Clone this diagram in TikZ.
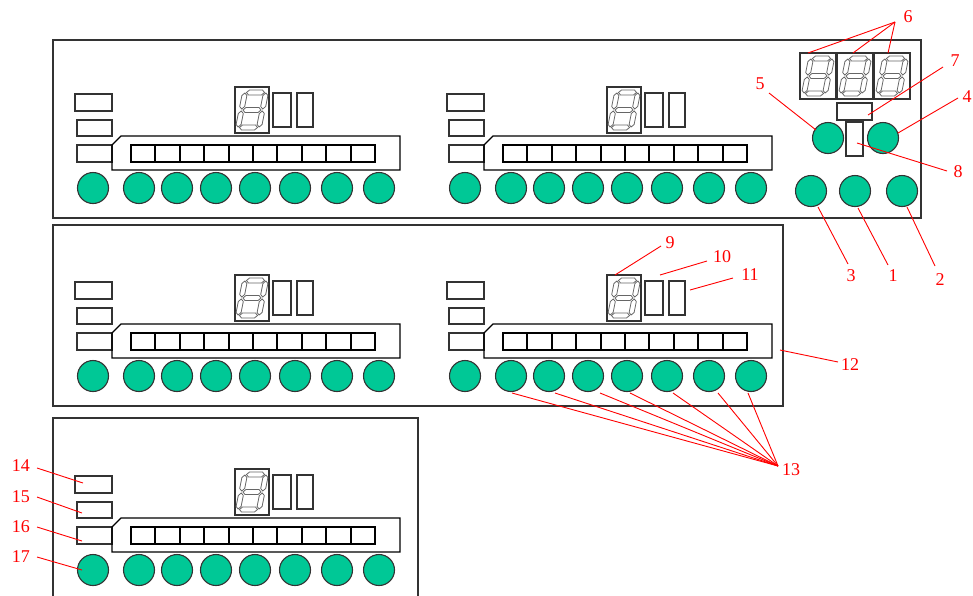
\documentclass[tikz,border=0pt]{standalone}
\usepackage{fontspec}
\setmainfont{Liberation Serif}
\definecolor{keygreen}{HTML}{00C896}
\definecolor{edge}{HTML}{333333}
\newcommand\hseg[2]{\draw (#1-9,#2)--(#1-6.5,#2-2.5)--(#1+6.5,#2-2.5)--(#1+9,#2)--(#1+6.5,#2+2.5)--(#1-6.5,#2+2.5)--cycle;}
\newcommand\vseg[2]{\draw (#1,#2-8)--(#1+2.5,#2-5.5)--(#1+2.5,#2+5.5)--(#1,#2+8)--(#1-2.5,#2+5.5)--(#1-2.5,#2-5.5)--cycle;}
\newcommand\sevseg[3]{%
  \draw[frame] (#1,#2) rectangle ++(#3,46);
  \begin{scope}[shift={(#1+#3/2,#2+23)}, xslant=0.2, segstyle]
    \hseg{0}{-17.5}\hseg{0}{0}\hseg{0}{17.5}
    \vseg{-10.5}{-9}\vseg{10.5}{-9}\vseg{-10.5}{9}\vseg{10.5}{9}
  \end{scope}}
\newcommand\panelunit[2]{%
  \begin{scope}[shift={(#1,#2)}]
    \draw[frame] (75,94) rectangle (112,111);
    \draw[frame] (77,120) rectangle (112,136);
    \draw[frame] (77,145) rectangle (112,162);
    \draw[bar] (112,145)--(121,136)--(400,136)--(400,170)--(112,170)--cycle;
    \draw[cell] (131,145) rectangle (375,162);
    \foreach \i in {1,...,9} \draw[cell] (131+24.4*\i,145)--++(0,17);
    \sevseg{235}{87}{34}
    \draw[frame] (273,93) rectangle (291,127);
    \draw[frame] (297,93) rectangle (313,127);
    \foreach \cx in {93,139,177,216,255,295,337,379} \draw[key] (\cx,188) circle (15.5);
  \end{scope}}
\begin{document}
\begin{tikzpicture}[x=1pt,y=-1pt,
  frame/.style={draw=edge, line width=1.4pt},
  panel/.style={draw=edge, line width=1.4pt},
  bar/.style={draw=black, line width=1.1pt},
  cell/.style={draw=black, line width=1.9pt},
  segstyle/.style={draw=black!60, line width=0.8pt},
  key/.style={draw=edge, fill=keygreen, line width=1.1pt},
  lbl/.style={text=red, font=\fontsize{18}{20}\selectfont, inner sep=0pt},
  lead/.style={draw=red, line width=0.9pt}]
\useasboundingbox (0,0) rectangle (973,595);
% panels
\draw[panel] (53,40) rectangle (921,218);
\draw[panel] (53,225) rectangle (783,406);
\draw[panel] (53,600)--(53,418)--(418,418)--(418,600);
% units
\panelunit{0}{0}
\panelunit{372}{0}
\panelunit{0}{188}
\panelunit{372}{188}
\panelunit{0}{382}
% control block
\sevseg{800}{53}{36}
\sevseg{837}{53}{36}
\sevseg{874}{53}{36}
\draw[frame] (837,103) rectangle (872,120);
\draw[frame] (846,122) rectangle (863,156);
\draw[key] (828,138) circle (15.5);
\draw[key] (883,138) circle (15.5);
\draw[key] (811,191) circle (15.5);
\draw[key] (855,191) circle (15.5);
\draw[key] (902,191) circle (15.5);
% labels
\node[lbl] (n1) at (893,276) {1};
\node[lbl] (n2) at (940,280) {2};
\node[lbl] (n3) at (851,276) {3};
\node[lbl] (n4) at (967,97) {4};
\node[lbl] (n5) at (760,84) {5};
\node[lbl] (n6) at (908,17) {6};
\node[lbl] (n7) at (955,61) {7};
\node[lbl] (n8) at (958,172) {8};
\node[lbl] (n9) at (670,243) {9};
\node[lbl] (n10) at (722,257) {10};
\node[lbl] (n11) at (750,275) {11};
\node[lbl] (n12) at (850,365) {12};
\node[lbl] (n13) at (791,470) {13};
\node[lbl] (n14) at (21,466) {14};
\node[lbl] (n15) at (21,497) {15};
\node[lbl] (n16) at (21,527) {16};
\node[lbl] (n17) at (21,557) {17};
% leader coordinates
\coordinate (s1) at (888,265); \coordinate (t1) at (858,208);
\coordinate (s2) at (935,266); \coordinate (t2) at (907,207);
\coordinate (s3) at (848,264); \coordinate (t3) at (818,207);
\coordinate (s4) at (958,98);  \coordinate (t4) at (898,133);
\coordinate (s5) at (769,93);  \coordinate (t5) at (816,130);
\coordinate (s6) at (895,22);
\coordinate (t6a) at (808,53); \coordinate (t6b) at (853,53); \coordinate (t6c) at (888,53);
\coordinate (s7) at (943,67);  \coordinate (t7) at (868,115);
\coordinate (s8) at (947,171); \coordinate (t8) at (857,143);
\coordinate (s9) at (661,246); \coordinate (t9) at (615,275);
\coordinate (s10) at (707,261); \coordinate (t10) at (660,275);
\coordinate (s11) at (733,278); \coordinate (t11) at (690,290);
\coordinate (s12) at (838,362); \coordinate (t12) at (780,350);
\coordinate (s13) at (778,466);
\coordinate (s14) at (37,468); \coordinate (t14) at (83,483);
\coordinate (s15) at (37,497); \coordinate (t15) at (82,513);
\coordinate (s16) at (37,527); \coordinate (t16) at (82,541);
\coordinate (s17) at (37,557); \coordinate (t17) at (82,570);
\draw[lead] (s1)--(t1); \draw[lead] (s2)--(t2); \draw[lead] (s3)--(t3);
\draw[lead] (s4)--(t4); \draw[lead] (s5)--(t5);
\draw[lead] (s6)--(t6a); \draw[lead] (s6)--(t6b); \draw[lead] (s6)--(t6c);
\draw[lead] (s7)--(t7); \draw[lead] (s8)--(t8); \draw[lead] (s9)--(t9);
\draw[lead] (s10)--(t10); \draw[lead] (s11)--(t11); \draw[lead] (s12)--(t12);
\foreach \cx in {512,555,600,630,673,718,748} \draw[lead] (s13)--(\cx,393);
\draw[lead] (s14)--(t14); \draw[lead] (s15)--(t15);
\draw[lead] (s16)--(t16); \draw[lead] (s17)--(t17);
\end{tikzpicture}
\end{document}
